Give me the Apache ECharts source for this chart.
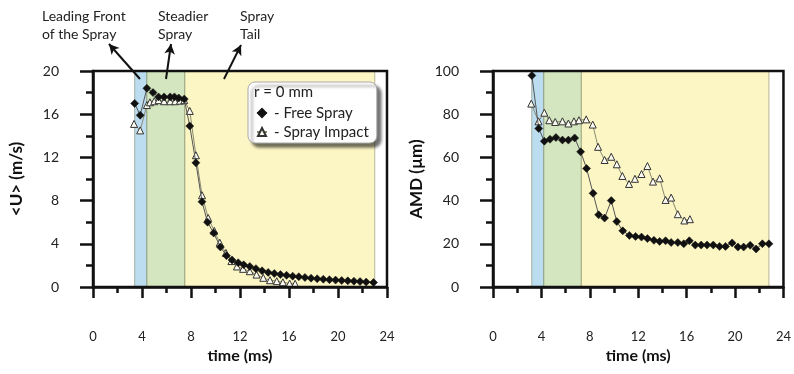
<!DOCTYPE html>
<html>
<head>
<meta charset="utf-8">
<script src="https://cdn.jsdelivr.net/npm/echarts@6/dist/echarts.min.js"></script>
<style>
  html, body { margin: 0; padding: 0; background: #fff; }
  #chart { width: 794px; height: 374px; }
</style>
</head>
<body>
<div id="chart"></div>
<script>
// mean velocity <U> (m/s), r = 0 mm
const uFreeTime = [3.4, 3.85, 4.4, 4.9, 5.35, 5.8, 6.3, 6.65, 7.0, 7.45, 7.9, 8.4, 8.9, 9.35, 9.85, 10.4, 10.9, 11.35, 11.85, 12.3, 12.8, 13.3, 13.8, 14.3, 14.8, 15.3, 15.8, 16.3, 16.8, 17.3, 17.8, 18.3, 18.8, 19.3, 19.8, 20.3, 20.8, 21.3, 21.8, 22.3, 22.9];
const uFree = [17.0, 15.9, 18.4, 18.0, 17.6, 17.6, 17.6, 17.6, 17.5, 17.4, 14.9, 11.5, 7.9, 6.0, 5.0, 3.7, 2.9, 2.5, 2.25, 2.05, 1.9, 1.7, 1.5, 1.35, 1.25, 1.15, 1.08, 1.0, 0.95, 0.88, 0.82, 0.76, 0.72, 0.68, 0.64, 0.6, 0.57, 0.54, 0.5, 0.46, 0.42];
const uImpactTime = [3.35, 3.85, 4.4, 4.65, 5.0, 5.35, 5.8, 6.3, 6.7, 7.1, 7.45, 7.9, 8.4, 8.9, 9.4, 9.9, 10.35, 10.85, 11.3, 11.75, 12.25, 12.8, 13.35, 13.9, 14.45, 15.0, 15.5, 16.05, 16.5];
const uImpact = [15.1, 14.5, 16.85, 17.1, 17.2, 17.3, 17.2, 17.2, 17.2, 17.25, 17.3, 16.3, 12.2, 8.5, 6.4, 5.2, 4.1, 3.15, 2.4, 1.9, 1.68, 1.46, 1.15, 0.85, 0.63, 0.54, 0.44, 0.32, 0.3];

// arithmetic mean diameter AMD (um)
const amdFreeTime = [3.21, 3.78, 4.24, 4.71, 5.2, 5.74, 6.23, 6.75, 7.24, 7.73, 8.27, 8.73, 9.22, 9.77, 10.23, 10.72, 11.27, 11.78, 12.27, 12.76, 13.3, 13.77, 14.26, 14.72, 15.27, 15.76, 16.22, 16.71, 17.2, 17.69, 18.2, 18.72, 19.21, 19.76, 20.24, 20.71, 21.25, 21.74, 22.26, 22.8];
const amdFree = [97.9, 73.4, 67.5, 68.4, 69.2, 68.0, 68.0, 69.0, 62.6, 54.9, 43.4, 33.4, 31.9, 40.0, 30.3, 26.0, 23.9, 23.4, 23.1, 22.4, 21.6, 21.1, 21.4, 20.6, 20.6, 20.0, 21.4, 19.4, 19.4, 19.4, 19.4, 18.8, 18.8, 20.4, 18.5, 18.5, 19.3, 17.6, 20.0, 20.0];
const amdImpactTime = [3.16, 3.76, 4.24, 4.65, 5.14, 5.74, 6.23, 6.69, 7.1, 7.7, 8.24, 8.68, 9.22, 9.77, 10.23, 10.69, 11.24, 11.73, 12.27, 12.76, 13.22, 13.77, 14.26, 14.72, 15.27, 15.81, 16.27];
const amdImpact = [84.9, 76.7, 80.7, 77.2, 76.4, 76.7, 75.7, 76.7, 77.2, 77.6, 75.2, 64.9, 58.8, 60.3, 56.8, 51.4, 47.7, 50.1, 52.3, 56.0, 48.8, 50.3, 40.3, 41.4, 33.7, 30.8, 31.4];

// spray phases (ms): leading front, steadier spray, spray tail
const phaseEdgesU = [3.4, 4.4, 7.5, 23.0];
const phaseEdgesAmd = [3.2, 4.2, 7.3, 22.8];
const phaseColors = ['#bcdcf0', '#d4e6c0', '#fcf6c4'];
const phaseLabels = [['Leading Front', 'of the Spray'], ['Steadier', 'Spray'], ['Spray', 'Tail']];

const xTicks = [0, 24, 4];
const uTicks = [0, 20, 4];
const amdTicks = [0, 100, 20];

const FONT = 'Lato, "Open Sans", sans-serif';

const zip = (xs, ys) => xs.map((x, i) => [x, ys[i]]);

function bands(edges) {
  return phaseColors.map((c, i) => [
    { xAxis: edges[i], itemStyle: { color: c, borderColor: 'rgba(110,120,80,0.5)', borderWidth: 1 } },
    { xAxis: edges[i + 1] }
  ]);
}

function xAxisFor(gridIndex) {
  return {
    type: 'value', gridIndex, min: xTicks[0], max: xTicks[1], interval: xTicks[2],
    position: 'bottom', offset: 16,
    name: 'time (ms)', nameLocation: 'middle', nameGap: 44,
    nameTextStyle: { fontFamily: FONT, fontWeight: 'bold', fontSize: 16, color: '#111' },
    axisLine: { show: true, lineStyle: { color: '#111', width: 2.5 } },
    axisTick: { show: true, length: 11, lineStyle: { color: '#111', width: 2.5 } },
    minorTick: { show: true, splitNumber: 2, length: 6, lineStyle: { color: '#111', width: 2.5 } },
    axisLabel: { margin: 27, fontFamily: FONT, fontSize: 13, color: '#222' },
    splitLine: { show: false }
  };
}

function yAxisFor(gridIndex, ticks, name) {
  return {
    type: 'value', gridIndex, min: ticks[0], max: ticks[1], interval: ticks[2],
    position: 'left', offset: 11,
    name, nameLocation: 'middle', nameGap: 57,
    nameTextStyle: { fontFamily: FONT, fontWeight: 'bold', fontSize: 17, color: '#111' },
    axisLine: { show: true, lineStyle: { color: '#111', width: 2.5 } },
    axisTick: { show: true, length: 13, lineStyle: { color: '#111', width: 2.5 } },
    minorTick: { show: true, splitNumber: 2, length: 7, lineStyle: { color: '#111', width: 2.5 } },
    axisLabel: { margin: 23, fontFamily: FONT, fontSize: 14, color: '#222' },
    splitLine: { show: false }
  };
}

const freeStyle = {
  type: 'line', symbol: 'diamond', symbolSize: 8, z: 4,
  lineStyle: { color: '#555', width: 1 },
  itemStyle: { color: '#111', borderColor: '#111', borderWidth: 0.5 }
};
const impactStyle = {
  type: 'line', symbol: 'triangle', symbolSize: 7, z: 3,
  lineStyle: { color: '#8a8a70', width: 1 },
  itemStyle: { color: '#fbfaf0', borderColor: '#333', borderWidth: 1 }
};

const arrows = [
  [{ x: 140, y: 79 }, { x: 109, y: 44 }],
  [{ x: 166, y: 79 }, { x: 171, y: 44 }],
  [{ x: 224, y: 79 }, { x: 241, y: 45 }]
];
const labelPos = [[42, 7], [158, 7], [240, 7]];

const chart = echarts.init(document.getElementById('chart'), null, { renderer: 'canvas' });

const option = {
  animation: false,
  backgroundColor: '#fff',
  grid: [
    { left: 93, top: 71, width: 294, height: 216, show: true, z: 10, backgroundColor: 'transparent', borderColor: '#111', borderWidth: 2.5 },
    { left: 493, top: 71, width: 294, height: 216, show: true, z: 10, backgroundColor: 'transparent', borderColor: '#111', borderWidth: 2.5 }
  ],
  xAxis: [xAxisFor(0), xAxisFor(1)],
  yAxis: [yAxisFor(0, uTicks, '<U> (m/s)'), yAxisFor(1, amdTicks, 'AMD (\u00b5m)')],
  legend: {
    data: ['Free Spray', 'Spray Impact'],
    orient: 'vertical', left: 248, top: 82,
    padding: [22, 8, 2, 8], itemGap: 1,
    itemWidth: 10, itemHeight: 10,
    backgroundColor: '#fff', borderColor: '#aaa', borderWidth: 1, borderRadius: 7,
    shadowColor: 'rgba(0,0,0,0.55)', shadowBlur: 3, shadowOffsetX: 4, shadowOffsetY: 4,
    formatter: name => '- ' + name,
    textStyle: { fontFamily: FONT, fontSize: 15, lineHeight: 18, color: '#222', padding: [0, 0, 0, 2] },
    selectedMode: false
  },
  graphic: [
    { type: 'text', left: 254, top: 85, z: 100, style: { text: 'r = 0 mm', font: '15px ' + FONT, fill: '#222' } }
  ].concat(phaseLabels.map((lines, i) => ({
    type: 'text', left: labelPos[i][0], top: labelPos[i][1],
    style: { text: lines.join('\n'), font: '14px ' + FONT, fill: '#222', lineHeight: 18 }
  }))),
  series: [
    Object.assign({}, impactStyle, {
      name: 'Spray Impact', xAxisIndex: 0, yAxisIndex: 0, data: zip(uImpactTime, uImpact)
    }),
    Object.assign({}, freeStyle, {
      name: 'Free Spray', xAxisIndex: 0, yAxisIndex: 0, data: zip(uFreeTime, uFree),
      markArea: { silent: true, z: 1, data: bands(phaseEdgesU) },
      markLine: {
        silent: true, symbol: ['none', 'arrow'], symbolSize: [8, 10],
        lineStyle: { color: '#111', width: 2, type: 'solid' }, label: { show: false },
        data: arrows
      }
    }),
    Object.assign({}, impactStyle, {
      name: 'Spray Impact', xAxisIndex: 1, yAxisIndex: 1, data: zip(amdImpactTime, amdImpact)
    }),
    Object.assign({}, freeStyle, {
      name: 'Free Spray', xAxisIndex: 1, yAxisIndex: 1, data: zip(amdFreeTime, amdFree),
      markArea: { silent: true, z: 1, data: bands(phaseEdgesAmd) }
    })
  ]
};

chart.setOption(option);
</script>
</body>
</html>
